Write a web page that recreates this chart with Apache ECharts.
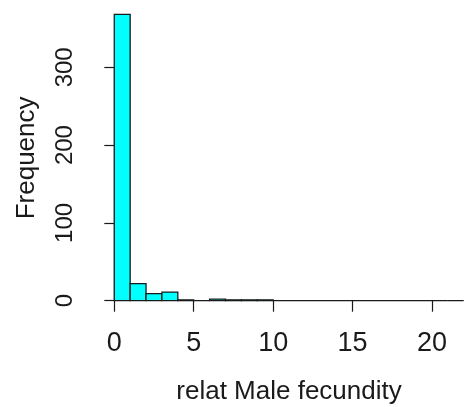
<!DOCTYPE html>
<html>
<head>
<meta charset="utf-8">
<script src="https://cdn.jsdelivr.net/npm/echarts@6/dist/echarts.min.js"></script>
<style>
  html, body { margin: 0; padding: 0; background: #ffffff; }
  #chart { width: 465px; height: 407px; }
</style>
</head>
<body>
<div id="chart"></div>
<script>
// Histogram of relative male fecundity, unit-wide bins from 0 to 22
const binStarts = [0, 1, 2, 3, 4, 5, 6, 7, 8, 9, 10, 11, 12, 13, 14, 15, 16, 17, 18, 19, 20, 21];
const binEnds   = [1, 2, 3, 4, 5, 6, 7, 8, 9, 10, 11, 12, 13, 14, 15, 16, 17, 18, 19, 20, 21, 22];
const counts    = [368, 22, 9, 11, 1, 0, 2, 1, 1, 1, 0, 0, 0, 0, 0, 0, 0, 0, 0, 0, 0, 0];

const xTicks = [0, 5, 10, 15, 20];
const yTicks = [0, 100, 200, 300];

const xTitle = 'relat Male fecundity';
const yTitle = 'Frequency';

const bins = binStarts.map((s, i) => [s, binEnds[i], counts[i]]);

const textColor = '#1a1a1a';
const fontFamily = '"Liberation Sans", Arial, sans-serif';

const chart = echarts.init(document.getElementById('chart'), null, { renderer: 'canvas' });

const option = {
  backgroundColor: '#ffffff',
  animation: false,
  grid: [
    // plot region (data range padded by 4% on each side)
    { left: 100.3, top: 3.7, width: 377.4, height: 308.4, outerBoundsMode: 'none', containLabel: false },
    // axis region spanning the tick range only
    { left: 114.3, top: 67.3, width: 317.7, height: 233.4, outerBoundsMode: 'none', containLabel: false }
  ],
  xAxis: [
    {
      gridIndex: 0, type: 'value', min: -0.88, max: 22.88,
      axisLine: { show: false }, axisTick: { show: false },
      axisLabel: { show: false }, splitLine: { show: false },
      name: xTitle, nameLocation: 'middle', nameGap: 67,
      nameTextStyle: { color: textColor, fontSize: 26, fontFamily: fontFamily }
    },
    {
      gridIndex: 1, type: 'value', min: xTicks[0], max: xTicks[xTicks.length - 1], interval: 5,
      offset: 12.6,
      axisLine: { show: true, lineStyle: { color: textColor, width: 1.2 } },
      axisTick: { show: true, length: 11, lineStyle: { color: textColor, width: 1.2 } },
      axisLabel: { show: true, margin: 17, color: textColor, fontSize: 27, fontFamily: fontFamily,
                   formatter: v => (xTicks.indexOf(v) >= 0 ? String(v) : '') },
      splitLine: { show: false }
    }
  ],
  yAxis: [
    {
      gridIndex: 0, type: 'value', min: -14.72, max: 381.72,
      axisLine: { show: false }, axisTick: { show: false },
      axisLabel: { show: false }, splitLine: { show: false },
      name: yTitle, nameLocation: 'middle', nameGap: 60, nameRotate: 90,
      nameTextStyle: { color: textColor, fontSize: 26, fontFamily: fontFamily }
    },
    {
      gridIndex: 1, type: 'value', min: yTicks[0], max: yTicks[yTicks.length - 1], interval: 100,
      offset: 14.3,
      axisLine: { show: true, lineStyle: { color: textColor, width: 1.2 } },
      axisTick: { show: true, length: 10, lineStyle: { color: textColor, width: 1.2 } },
      axisLabel: { show: true, rotate: 90, margin: 23, color: textColor, fontSize: 24, fontFamily: fontFamily,
                   formatter: v => (yTicks.indexOf(v) >= 0 ? String(v) : '') },
      splitLine: { show: false }
    }
  ],
  series: [
    {
      type: 'custom',
      xAxisIndex: 0,
      yAxisIndex: 0,
      data: bins,
      encode: { x: [0, 1], y: 2 },
      renderItem: function (params, api) {
        const x0 = api.value(0);
        const x1 = api.value(1);
        const c = api.value(2);
        const topLeft = api.coord([x0, c]);
        const bottomRight = api.coord([x1, 0]);
        return {
          type: 'rect',
          shape: {
            x: topLeft[0],
            y: topLeft[1],
            width: bottomRight[0] - topLeft[0],
            height: bottomRight[1] - topLeft[1]
          },
          style: { fill: '#00ffff', stroke: textColor, lineWidth: 1.3 }
        };
      }
    }
  ]
};

chart.setOption(option);
</script>
</body>
</html>
